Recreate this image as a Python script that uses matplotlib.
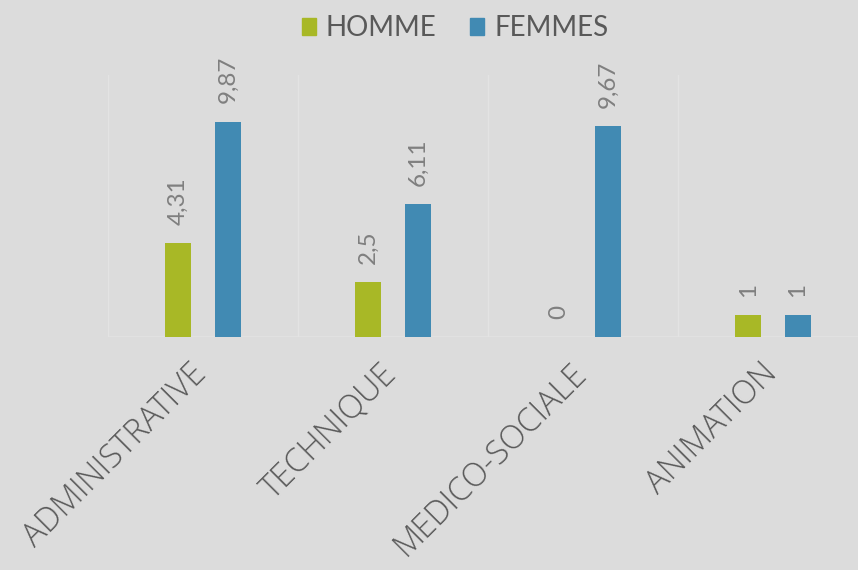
import matplotlib
matplotlib.use("Agg")
import matplotlib.pyplot as plt
import numpy as np
from matplotlib.patches import Patch

categories = ["ADMINISTRATIVE", "TECHNIQUE", "MEDICO-SOCIALE", "ANIMATION"]
homme = [4.31, 2.5, 0, 1]
femmes = [9.87, 6.11, 9.67, 1]
homme_labels = ["4,31", "2,5", "0", "1"]
femmes_labels = ["9,87", "6,11", "9,67", "1"]

BG = "#dcdcdc"
GREEN = "#a8b826"
BLUE = "#418ab3"
GRID = "#e3e3e3"

plt.rcParams['font.family'] = ['Lato', 'DejaVu Sans']

W, H = 858, 570
fig = plt.figure(figsize=(W/100, H/100), dpi=100, facecolor=BG)
left, right, top, bottom = 108, 868, 75, 337
ax = fig.add_axes([left/W, 1-bottom/H, (right-left)/W, (bottom-top)/H])
ax.set_facecolor(BG)

x = np.arange(len(categories))
bw = 0.137
off = 0.13
ax.bar(x - off, homme, bw, color=GREEN, zorder=3)
ax.bar(x + off, femmes, bw, color=BLUE, zorder=3)

ax.set_xlim(-0.5, len(categories) - 0.5)
ax.set_ylim(0, 12)
for s in ax.spines.values():
    s.set_visible(False)
ax.set_yticks([])
ax.set_xticks(x)
ax.set_xticklabels([])
ax.tick_params(axis='x', length=0)
for b in np.arange(-0.5, len(categories), 1.0):
    ax.axvline(b, color=GRID, lw=1, zorder=1)
ax.axhline(0, color=GRID, lw=1.2, zorder=2)

for xi, v, lab in zip(x - off, homme, homme_labels):
    ax.annotate(lab, (xi, v), xytext=(0, 13), textcoords='offset points',
                rotation=90, ha='center', va='bottom', fontsize=17.5,
                color='#7f7f7f')
for xi, v, lab in zip(x + off, femmes, femmes_labels):
    ax.annotate(lab, (xi, v), xytext=(0, 13), textcoords='offset points',
                rotation=90, ha='center', va='bottom', fontsize=17.5,
                color='#7f7f7f')

for xi, c in zip(x, categories):
    ax.annotate(c, (xi, 0), xytext=(-1, -23), textcoords='offset points',
                rotation=45, ha='right', va='center', rotation_mode='anchor',
                fontsize=23.5, fontweight='light', color='#595959',
                family=['Open Sans', 'DejaVu Sans'])

handles = [Patch(color=GREEN, label='HOMME'), Patch(color=BLUE, label='FEMMES')]
fig.legend(handles=handles, loc='upper center', bbox_to_anchor=(455/W, 1.0),
           ncol=2, frameon=False, fontsize=20, labelcolor='#595959',
           handlelength=0.52, handleheight=0.52, handletextpad=0.35,
           columnspacing=1.2, borderaxespad=0.15)

fig.savefig("out.png", dpi=100, facecolor=BG)
